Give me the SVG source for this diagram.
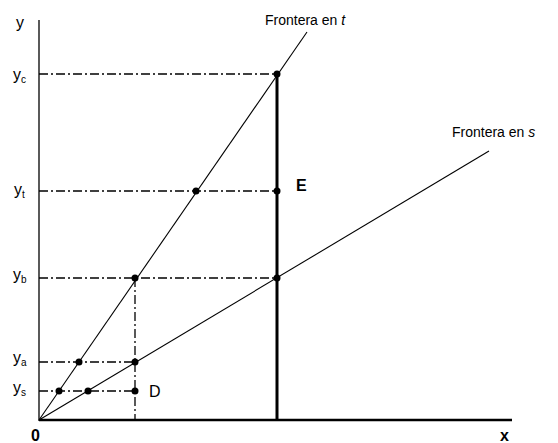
<svg xmlns="http://www.w3.org/2000/svg" width="558" height="443" viewBox="0 0 558 443">
<style>
text{font-family:"Liberation Sans",Arial,sans-serif;fill:#000}
.lab{font-size:16px}
.sub{font-size:10px}
.dash{stroke:#000;stroke-width:1.3;stroke-dasharray:9 3 2 3;fill:none}
.ln{stroke:#000;stroke-width:1.1;fill:none}
.pt{fill:#000}
</style>
<rect width="558" height="443" fill="#fff"/>
<g id="axes">
<line x1="39" y1="20" x2="39" y2="421" stroke="#000" stroke-width="1.3"/>
<line x1="39" y1="420" x2="512" y2="420" stroke="#000" stroke-width="2.5"/>
<text class="lab" x="16" y="28">y</text>
<text class="lab" x="31" y="441" font-weight="bold">0</text>
<text class="lab" x="500" y="441" font-weight="bold">x</text>
</g>
<g id="connectors">
<line class="ln" x1="39" y1="420" x2="307" y2="32"/>
<line class="ln" x1="39" y1="420" x2="489" y2="151"/>
<line x1="277" y1="74" x2="277" y2="420" stroke="#000" stroke-width="3"/>
<line class="dash" x1="39" y1="74" x2="277" y2="74"/>
<line class="dash" x1="39" y1="191" x2="277" y2="191"/>
<line class="dash" x1="39" y1="278" x2="277" y2="278"/>
<line class="dash" x1="39" y1="362" x2="135" y2="362"/>
<line class="dash" x1="39" y1="391" x2="135" y2="391"/>
<line class="dash" x1="135" y1="278" x2="135" y2="420"/>
</g>
<g id="ylabels">
<text class="lab" x="13" y="80">y<tspan class="sub" dy="3">c</tspan></text>
<text class="lab" x="14" y="195">y<tspan class="sub" dy="3">t</tspan></text>
<text class="lab" x="13" y="280">y<tspan class="sub" dy="3">b</tspan></text>
<text class="lab" x="13" y="363">y<tspan class="sub" dy="3">a</tspan></text>
<text class="lab" x="13" y="393">y<tspan class="sub" dy="3">s</tspan></text>
</g>
<g id="frontier-t"><text x="265" y="25" font-size="14">Frontera en <tspan font-style="italic">t</tspan></text></g>
<g id="frontier-s"><text x="452" y="137" font-size="14">Frontera en <tspan font-style="italic">s</tspan></text></g>
<g id="points">
<circle class="pt" cx="277" cy="74" r="3.5"/>
<circle class="pt" cx="196" cy="191" r="3.5"/>
<circle class="pt" cx="277" cy="191" r="3.5"/>
<circle class="pt" cx="135" cy="278" r="3.5"/>
<circle class="pt" cx="277" cy="278" r="3.5"/>
<circle class="pt" cx="79" cy="362" r="3.5"/>
<circle class="pt" cx="135" cy="362" r="3.5"/>
<circle class="pt" cx="59" cy="391" r="3.5"/>
<circle class="pt" cx="88" cy="391" r="3.5"/>
<circle class="pt" cx="135" cy="391" r="3.5"/>
</g>
<g id="E"><text x="296" y="191" font-size="16" font-weight="bold">E</text></g>
<g id="D"><text x="149" y="397" font-size="16">D</text></g>
</svg>
